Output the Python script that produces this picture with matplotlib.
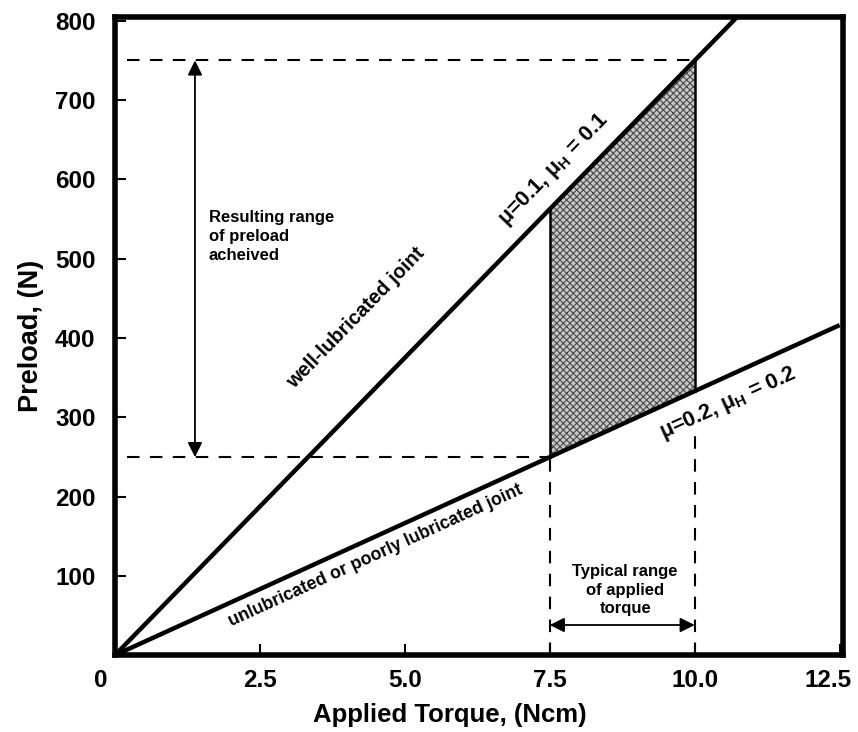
import numpy as np
import matplotlib
matplotlib.use("Agg")
import matplotlib.pyplot as plt
import matplotlib.transforms as mtransforms

# Data
torque = [0.0, 12.5]
slope_well = 75.0      # N per Ncm, mu=0.1
slope_poor = 33.3      # N per Ncm, mu=0.2
torque_range = [7.5, 10.0]
xticks = [0, 2.5, 5.0, 7.5, 10.0, 12.5]
xticklabels = ["0", "2.5", "5.0", "7.5", "10.0", "12.5"]
yticks = [100, 200, 300, 400, 500, 600, 700, 800]

plt.rcParams['font.family'] = ['Liberation Sans', 'DejaVu Sans']
plt.rcParams['mathtext.fontset'] = 'custom'
plt.rcParams['mathtext.rm'] = 'Liberation Sans:bold'
plt.rcParams['mathtext.bf'] = 'Liberation Sans:bold'
plt.rcParams['mathtext.it'] = 'Liberation Sans:italic:bold'
plt.rcParams['hatch.linewidth'] = 0.8

fig = plt.figure(figsize=(8.58, 7.32), dpi=100)
ax = fig.add_axes([0.134, 0.105, 0.848, 0.872])

x = np.linspace(torque[0], torque[1], 200)
well = slope_well * x
poor = slope_poor * x
ax.plot(x, well, color='black', lw=3.2, solid_capstyle='butt', zorder=4)
ax.plot(x, poor, color='black', lw=3.2, solid_capstyle='butt', zorder=4)

# shaded region
xs = np.linspace(torque_range[0], torque_range[1], 50)
ax.fill_between(xs, slope_poor * xs, slope_well * xs, facecolor='#c8c8c8',
                edgecolor='#4a4a4a', hatch='xxxxx', linewidth=0, zorder=2)
for xv in torque_range:
    ax.plot([xv, xv], [slope_poor * xv, slope_well * xv], color='black', lw=1.8, zorder=3)

lo = slope_poor * torque_range[0]
hi = slope_well * torque_range[1]
dash = dict(color='black', lw=1.5, dashes=(6, 5))
ax.plot([0.2, torque_range[1]], [hi, hi], **dash)
ax.plot([0.2, torque_range[0]], [lo, lo], **dash)
ax.plot([torque_range[0], torque_range[0]], [0, lo], **dash)
ax.plot([torque_range[1], torque_range[1]], [0, 285], **dash)

# arrows
ax.annotate('', xy=(1.38, hi), xytext=(1.38, lo),
            arrowprops=dict(arrowstyle='<|-|>', color='black', lw=1.3,
                            mutation_scale=22, shrinkA=0, shrinkB=0))
ax.annotate('', xy=(torque_range[0], 38), xytext=(torque_range[1], 38),
            arrowprops=dict(arrowstyle='<|-|>', color='black', lw=1.3,
                            mutation_scale=22, shrinkA=0, shrinkB=0))

# texts
ax.text(1.62, 528, "Resulting range\nof preload\nacheived", fontsize=12,
        fontweight='bold', ha='left', va='center', linespacing=1.3)
ax.text(8.8, 82, "Typical range\nof applied\ntorque", fontsize=12,
        fontweight='bold', ha='center', va='center', linespacing=1.3)
ax.text(4.15, 425, "well-lubricated joint", fontsize=14.5, fontweight='bold',
        rotation=45.8, ha='center', va='center', rotation_mode='anchor')
ax.text(4.5, 125, "unlubricated or poorly lubricated joint", fontsize=12.8,
        fontweight='bold', rotation=24.5, ha='center', va='center', rotation_mode='anchor')
ax.text(7.58, 612, r"μ=0.1, μ$_{\mathrm{H}}$ = 0.1", fontsize=15.5, fontweight='bold',
        rotation=45.8, ha='center', va='center', rotation_mode='anchor')
ax.text(10.58, 318, r"μ=0.2, μ$_{\mathrm{H}}$ = 0.2", fontsize=15.5, fontweight='bold',
        rotation=24.5, ha='center', va='center', rotation_mode='anchor')

ax.set_xlim(0, 12.55)
ax.set_ylim(0, 805)
ax.set_xticks(xticks)
ax.set_xticklabels(xticklabels)
ax.set_yticks(yticks)
ax.tick_params(direction='in', length=8, width=1.5, labelsize=17.5)
ax.tick_params(axis='x', pad=10)
ax.tick_params(axis='y', pad=14)
for lab in ax.get_xticklabels() + ax.get_yticklabels():
    lab.set_fontweight('bold')
xl = ax.get_xticklabels()
xl[0].set_transform(xl[0].get_transform() + mtransforms.ScaledTranslation(-0.14, 0, fig.dpi_scale_trans))
xl[-1].set_transform(xl[-1].get_transform() + mtransforms.ScaledTranslation(-0.12, 0, fig.dpi_scale_trans))
for s in ax.spines.values():
    s.set_linewidth(4)
ax.set_xlabel("Applied Torque, (Ncm)", fontsize=18.5, fontweight='bold', labelpad=6)
ax.xaxis.set_label_coords(0.46, -0.075)
ax.set_ylabel("Preload, (N)", fontsize=19.5, fontweight='bold', labelpad=8)

fig.savefig("out.png", dpi=100)
